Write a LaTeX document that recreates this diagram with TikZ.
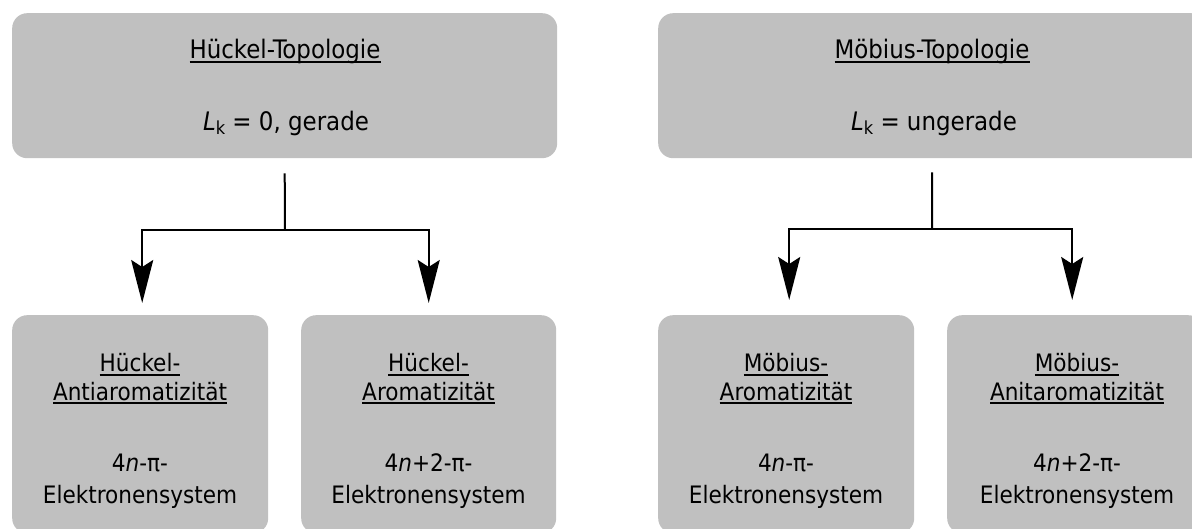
\documentclass[tikz,border=0pt]{standalone}
\usepackage{fontspec}
\setmainfont{DejaVu Sans Condensed}
\usetikzlibrary{arrows.meta}
\definecolor{boxgray}{RGB}{192,192,192}
\newcommand\myul[1]{\setbox0\hbox{#1}\rlap{\rule[-3.6pt]{\wd0}{1.3pt}}\box0}
\newcommand\Lk{\textit{L}\raisebox{-4pt}{\fontsize{18}{18}\selectfont k}}
\tikzset{
  boxnode/.style={rectangle, rounded corners=15pt, fill=boxgray, draw=none, inner sep=0pt, anchor=north west},
  txt/.style={anchor=base, inner sep=0pt, font=\fontsize{24}{28}\selectfont},
  toptxt/.style={txt, font=\fontsize{25.5}{30}\selectfont},
  stemline/.style={line width=2pt},
  arr/.style={line width=2pt, -{Stealth[length=43pt,width=22pt,inset=7pt]}}
}
\begin{document}
\begin{tikzpicture}[x=1pt,y=-1pt]
\useasboundingbox (0,0) rectangle (1192,529);
\clip (0,0) rectangle (1192,529);
% boxes
\node[boxnode, minimum width=545pt, minimum height=145pt] (tl) at (12,13) {};
\node[boxnode, minimum width=548pt, minimum height=145pt] (tr) at (658,13) {};
\node[boxnode, minimum width=256pt, minimum height=218pt] (bl1) at (12,315) {};
\node[boxnode, minimum width=255pt, minimum height=218pt] (bl2) at (301,315) {};
\node[boxnode, minimum width=256pt, minimum height=218pt] (br1) at (658,315) {};
\node[boxnode, minimum width=256pt, minimum height=218pt] (br2) at (947,315) {};
% top texts
\node[toptxt] (tl1) at (285,59) {\myul{Hückel-Topologie}};
\node[toptxt] (tl2) at (286,131) {\Lk{} = 0, gerade};
\node[toptxt] (tr1) at (932,59) {\myul{Möbius-Topologie}};
\node[toptxt] (tr2) at (934,131) {\Lk{} = ungerade};
% bottom texts
\node[txt] (a1) at (140,372) {\myul{Hückel-}};
\node[txt] (a2) at (140,400) {\myul{Antiaromatizität}};
\node[txt] (a3) at (140,471) {4\textit{n}-π-};
\node[txt] (a4) at (140,503) {Elektronensystem};
\node[txt] (b1) at (428.5,372) {\myul{Hückel-}};
\node[txt] (b2) at (428.5,400) {\myul{Aromatizität}};
\node[txt] (b3) at (428.5,471) {4\textit{n}+2-π-};
\node[txt] (b4) at (428.5,503) {Elektronensystem};
\node[txt] (c1) at (786,372) {\myul{Möbius-}};
\node[txt] (c2) at (786,400) {\myul{Aromatizität}};
\node[txt] (c3) at (786,471) {4\textit{n}-π-};
\node[txt] (c4) at (786,503) {Elektronensystem};
\node[txt] (d1) at (1077,372) {\myul{Möbius-}};
\node[txt] (d2) at (1077,400) {\myul{Anitaromatizität}};
\node[txt] (d3) at (1077,471) {4\textit{n}+2-π-};
\node[txt] (d4) at (1077,503) {Elektronensystem};
% connectors
\coordinate (j1) at (285,230);
\coordinate (j2) at (932,229);
\draw[stemline] ([yshift=-15pt]tl.south) -- (j1);
\draw[arr] (j1) -| ([xshift=2pt,yshift=12pt]bl1.north);
\draw[arr] (j1) -| ([yshift=12pt]bl2.north);
\draw[stemline] ([yshift=-14pt]tr.south) -- (j2);
\draw[arr] (j2) -| ([xshift=3pt,yshift=15pt]br1.north);
\draw[arr] (j2) -| ([xshift=-3pt,yshift=15pt]br2.north);
\end{tikzpicture}
\end{document}
